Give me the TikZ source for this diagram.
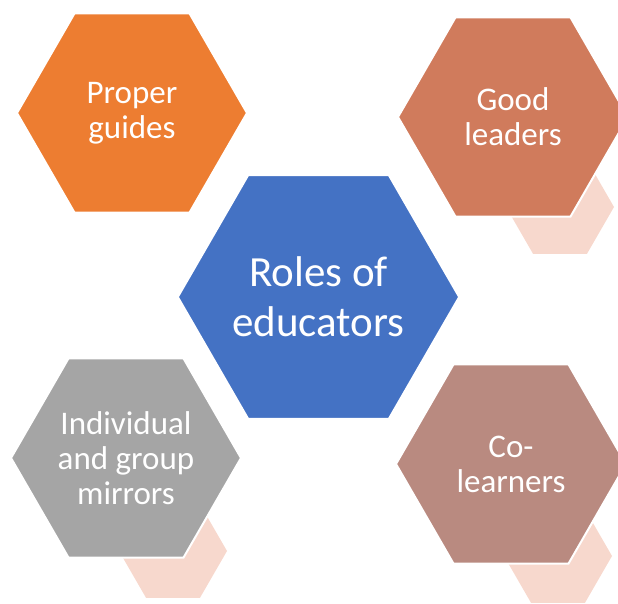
\documentclass[tikz,border=0pt]{standalone}
\usepackage{fontspec}
\setmainfont{Carlito}
\usetikzlibrary{shapes.geometric}
\definecolor{hexorange}{HTML}{ED7D31}
\definecolor{hexblue}{HTML}{4472C4}
\definecolor{hexgray}{HTML}{A5A5A5}
\definecolor{hexrust}{HTML}{D07B5C}
\definecolor{hexmauve}{HTML}{B98A80}
\definecolor{hexpale}{HTML}{F7D8CD}
\begin{document}
\begin{tikzpicture}[x=1pt, y=-1pt,
            hex/.style = {regular polygon, regular polygon sides=6, inner sep=0pt, minimum size=230pt, draw=white, line width=2pt, text=white, align=center, font=\fontsize{33}{35}\selectfont},
            pale/.style = {regular polygon, regular polygon sides=6, inner sep=0pt, minimum size=108pt, fill=hexpale}]
            \useasboundingbox (0,0) rectangle (618,604);
            \clip (0,0) rectangle (618,604);
            % small accent hexagons behind
            \node[pale] (pale1) at (560,207) {};
            \node[pale] (pale2) at (173,551) {};
            \node[pale] (pale3) at (558,556) {};
            % outer hexagons
            \node[hex, fill=hexorange] (guides) at (132,113) {Proper\\guides};
            \node[hex, fill=hexrust] (leaders) at (513,117) {Good\\leaders};
            \node[hex, fill=hexgray] (mirrors) at (126,458) {Individual\\and group\\mirrors};
            \node[hex, fill=hexmauve] (colearners) at (511,464) {Co-\\learners};
            % centre
            \node[hex, fill=hexblue, minimum size=281pt, font=\fontsize{43}{50}\selectfont] (roles) at (318.5,297) {Roles of\\educators};
        \end{tikzpicture}
\end{document}
